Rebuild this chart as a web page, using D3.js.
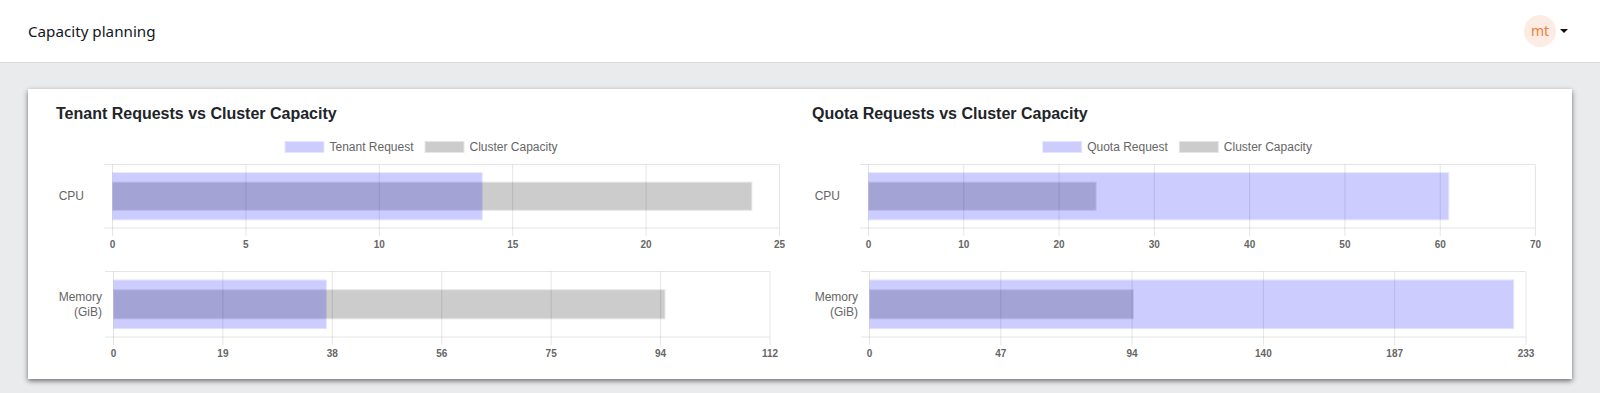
<!DOCTYPE html>
<html>
<head>
<meta charset="utf-8">
<script src="https://cdn.jsdelivr.net/npm/d3@7"></script>
<style>
    body {
        margin: 0;
        width: 1600px;
        height: 393px;
        overflow: hidden;
        background: #eaebed;
        font-family: "Liberation Sans", Arial, sans-serif;
    }
    .header {
        position: absolute;
        left: 0; top: 0;
        width: 1600px; height: 62px;
        background: #fff;
        border-bottom: 1px solid #d9d9db;
    }
    .header .title {
        position: absolute;
        left: 28px; top: 21px;
        font: 15.2px "Noto Sans", sans-serif;
        color: #111622;
    }
    .avatar {
        position: absolute;
        left: 1524px; top: 15px;
        width: 32px; height: 32px;
        border-radius: 50%;
        background: #fdece3;
        color: #f07c3a;
        font: 14px "Noto Sans", sans-serif;
        line-height: 31px;
        text-align: center;
    }
    .caret {
        position: absolute;
        left: 1560px; top: 29px;
        width: 0; height: 0;
        border-left: 4px solid transparent;
        border-right: 4px solid transparent;
        border-top: 4px solid #111;
    }
    .card {
        position: absolute;
        left: 28px; top: 89px;
        width: 1544px; height: 290px;
        background: #fff;
        box-shadow: 0 2px 5px rgba(0, 0, 0, 0.55);
    }
    svg#charts {
        position: absolute;
        left: 0; top: 0;
    }
</style>
</head>
<body>
<div class="header">
    <div class="title">Capacity planning</div>
    <div class="avatar">mt</div>
    <div class="caret"></div>
</div>
<div class="card"></div>
<svg id="charts" width="1600" height="393"></svg>
<script>

    // Data
    var resources = ['CPU', 'Memory (GiB)'];
    var tenantRequest = [13.9, 36.4];
    var quotaRequest = [61, 229];
    var clusterCapacity = [24, 94];

    var tenantAxisMax = [25, 111.7];
    var quotaAxisMax = [70, 233];
    var tenantTicks = [
        ['0', '5', '10', '15', '20', '25'],
        ['0', '19', '38', '56', '75', '94', '112']
    ];
    var quotaTicks = [
        ['0', '10', '20', '30', '40', '50', '60', '70'],
        ['0', '47', '94', '140', '187', '233']
    ];

    var requestFill = 'rgba(0, 0, 255, 0.2)';
    var requestBorder = 'rgba(0, 0, 255, 0.1)';
    var capacityFill = 'rgba(0, 0, 0, 0.2)';
    var capacityBorder = 'rgba(0, 0, 0, 0.1)';
    var gridColor = 'rgba(0, 0, 0, 0.1)';

    // Row geometry, relative to the panel origin where needed
    var rowTop = [164.5, 271.5];
    var rowBottom = [228, 337];
    var plotLeftOffset = [56, 57];
    var labelGap = [28, 11];
    var legendCenterOffset = 365.5;

    var panels = [
        {
            x: 56,
            title: 'Tenant Requests vs Cluster Capacity',
            requestName: 'Tenant Request',
            request: tenantRequest,
            axisMax: tenantAxisMax,
            ticks: tenantTicks,
            plotRight: [779, 769.5]
        },
        {
            x: 812,
            title: 'Quota Requests vs Cluster Capacity',
            requestName: 'Quota Request',
            request: quotaRequest,
            axisMax: quotaAxisMax,
            ticks: quotaTicks,
            plotRight: [1535, 1525.5]
        }
    ];

    var svg = d3.select('svg#charts');

    /**
     * Draw a bar with an inset border, like the canvas charts do.
     */
    function drawBar(g, x, y, key, value, frac, fill, border) {
        var h = y.bandwidth() * frac;
        var y0 = y(key) + (y.bandwidth() - h) / 2;
        var x0 = x(0);
        var w = x(value) - x0;
        g.append('rect')
            .attr('x', x0 + 1).attr('y', y0 + 1)
            .attr('width', w - 2).attr('height', h - 2)
            .attr('fill', fill);
        g.append('rect')
            .attr('x', x0 + 0.5).attr('y', y0 + 0.5)
            .attr('width', w - 1).attr('height', h - 1)
            .attr('fill', 'none')
            .attr('stroke', border);
    }

    /**
     * Centered legend above the first row.
     */
    function drawLegend(g, center, items) {
        var lg = g.append('g');
        var widths = [];
        items.forEach(function(item) {
            var t = lg.append('text')
                .attr('font-size', 12)
                .attr('fill', '#666')
                .text(item.name);
            widths.push(t.node().getComputedTextLength());
            item.node = t;
        });
        var total = d3.sum(widths, function(w) { return 40 + 6 + w; }) + 10 * (items.length - 1);
        var cx = center - total / 2;
        items.forEach(function(item, i) {
            lg.append('rect')
                .attr('x', cx + 1).attr('y', 142)
                .attr('width', 38).attr('height', 10)
                .attr('fill', item.fill);
            lg.append('rect')
                .attr('x', cx + 0.5).attr('y', 141.5)
                .attr('width', 39).attr('height', 11)
                .attr('fill', 'none')
                .attr('stroke', item.border);
            item.node.attr('x', cx + 45).attr('y', 151);
            cx += 40 + 6 + widths[i] + 10;
        });
    }

    /**
     * Draw one horizontal bar chart row (CPU or memory).
     */
    function drawRow(g, panel, i) {
        var left = panel.x + plotLeftOffset[i];
        var right = panel.plotRight[i];
        var top = rowTop[i];
        var bottom = rowBottom[i];
        var labels = panel.ticks[i];
        var max = panel.axisMax[i];

        var x = d3.scaleLinear().domain([0, max]).range([left, right]);
        var y = d3.scaleBand().domain([resources[i]]).range([top, bottom]);
        var tickValues = labels.map(function(t, k) { return k * max / (labels.length - 1); });

        // Vertical grid plus tick marks and labels
        var axis = g.append('g')
            .attr('transform', 'translate(0,' + bottom + ')')
            .call(d3.axisBottom(x)
                .tickValues(tickValues)
                .tickFormat(function(d, k) { return labels[k]; })
                .tickSize(0)
                .tickPadding(0));
        axis.select('.domain').remove();
        axis.selectAll('.tick line')
            .attr('y1', 8)
            .attr('y2', -(bottom - top))
            .attr('stroke', gridColor);
        axis.selectAll('.tick text')
            .attr('y', 19.5)
            .attr('dy', null)
            .attr('fill', '#666')
            .attr('font-family', '"Liberation Sans", Arial, sans-serif')
            .attr('font-size', 10)
            .attr('font-weight', 'bold');

        // Horizontal edges of the category band
        [top, bottom].forEach(function(yy) {
            g.append('line')
                .attr('x1', left - 8).attr('x2', right)
                .attr('y1', yy).attr('y2', yy)
                .attr('stroke', gridColor);
        });

        // Category label, split on space for multi-line
        var words = resources[i].indexOf(' ') > 0 ? resources[i].split(' ') : [resources[i]];
        var cy = y(resources[i]) + y.bandwidth() / 2;
        var lineH = 14.4;
        var label = g.append('text')
            .attr('text-anchor', 'end')
            .attr('font-size', 12)
            .attr('fill', '#666');
        words.forEach(function(w, k) {
            label.append('tspan')
                .attr('x', left - labelGap[i])
                .attr('y', cy + 4.2 + (k - (words.length - 1) / 2) * lineH)
                .text(w);
        });

        drawBar(g, x, y, resources[i], clusterCapacity[i], 0.46, capacityFill, capacityBorder);
        drawBar(g, x, y, resources[i], panel.request[i], 0.76, requestFill, requestBorder);
    }

    panels.forEach(function(panel) {
        var g = svg.append('g');

        g.append('text')
            .attr('x', panel.x)
            .attr('y', 118.5)
            .attr('font-size', 16)
            .attr('font-weight', 'bold')
            .attr('fill', '#212529')
            .text(panel.title);

        drawLegend(g, panel.x + legendCenterOffset, [
            {name: panel.requestName, fill: requestFill, border: requestBorder},
            {name: 'Cluster Capacity', fill: capacityFill, border: capacityBorder}
        ]);

        resources.forEach(function(r, i) {
            drawRow(g, panel, i);
        });
    });

</script>
</body>
</html>
